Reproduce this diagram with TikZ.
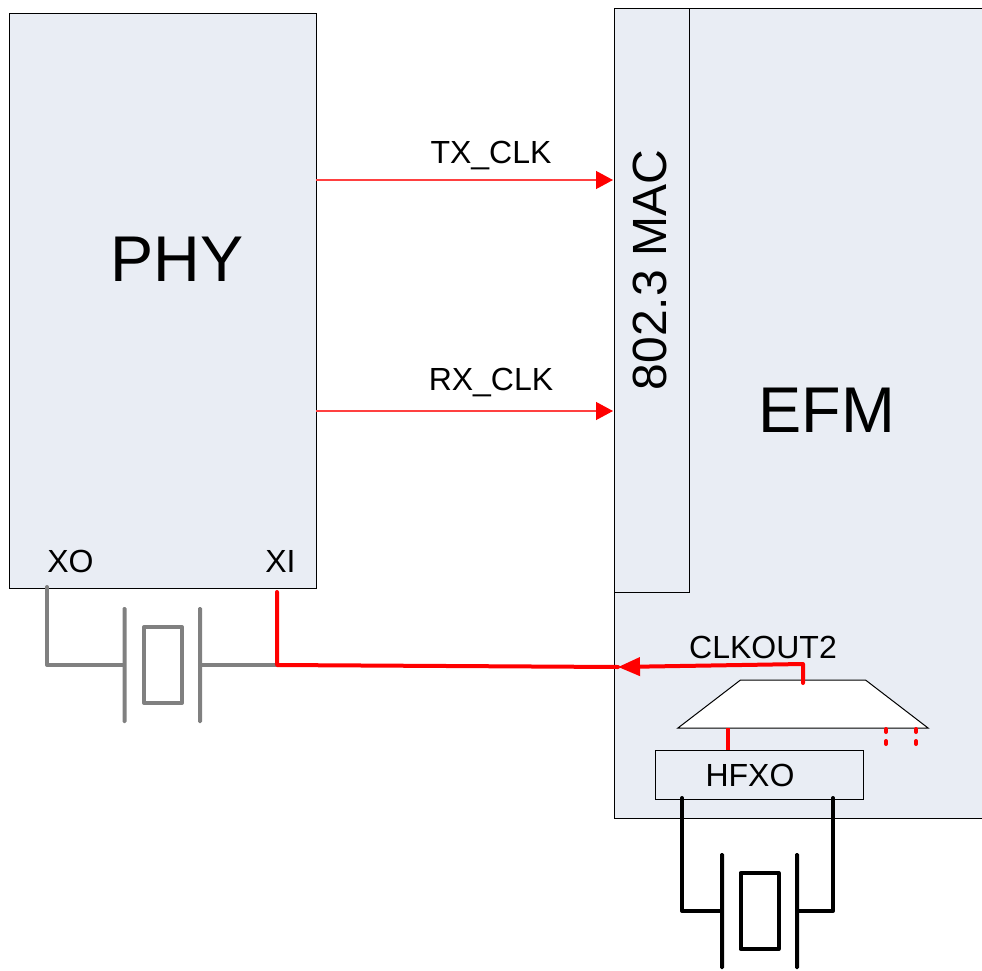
\documentclass[tikz,border=0pt]{standalone}
\usepackage{fontspec}
\setmainfont{Liberation Sans}
\usetikzlibrary{positioning,arrows.meta,shapes.geometric}
\definecolor{bFill}{RGB}{233,237,244}
\definecolor{bLine}{RGB}{0,0,0}
\definecolor{xGray}{RGB}{128,128,128}
\definecolor{sRed}{RGB}{255,0,0}
\newcommand{\px}{0.75pt}
\tikzset{
  block/.style={rectangle, draw=bLine, fill=bFill, line width=1*\px,
                inner sep=0pt, outer sep=0pt, anchor=north west},
  mux/.style={trapezium, trapezium left angle=37.5, trapezium right angle=37.5,
              draw=bLine, fill=white, line width=1*\px, inner sep=0pt, outer sep=0pt},
  big/.style={font=\fontsize{48.5}{52}\selectfont, inner sep=0pt},
  mid/.style={font=\fontsize{36}{40}\selectfont, inner sep=0pt, rotate=90},
  lbl/.style={font=\fontsize{24}{28}\selectfont, inner sep=0pt},
  xtal/.style={rectangle, draw=#1, line width=4*\px, line join=round, inner sep=0pt,
               outer sep=0pt, minimum width=38*\px, minimum height=76*\px},
  plate/.style={rectangle, fill=#1, rounded corners=1pt, inner sep=0pt, outer sep=0pt,
                minimum width=4*\px, minimum height=116*\px},
  lead/.style={draw=#1, line width=4*\px, line join=round, line cap=round},
  clk/.style={-{Triangle[length=17*\px,width=18*\px,color=sRed]}, draw=sRed!75, line width=1.3*\px},
  sel/.style={draw=sRed, line width=4*\px, line join=round, line cap=round},
  seld/.style={draw=sRed, line width=4*\px, line cap=round, dash pattern=on 3*\px off 9*\px},
}

\begin{document}
\begin{tikzpicture}[x=\px, y=-\px]
  \useasboundingbox (0,0) rectangle (982,971);

  % ===== Blocks =========================================================
  \node[block, minimum width=307*\px, minimum height=575*\px] (phy) at (9.5,13) {};
  \node[block, minimum width=380*\px, minimum height=810*\px] (efm) at (614,8) {};
  \node[block, minimum width=75.5*\px, minimum height=584*\px] (mac) at (614,8) {};
  \node[block, minimum width=208*\px, minimum height=49*\px] (hfxo) at (655,750) {};
  \node[mux] (clksel) at (803,704) {\phantom{\rule{93.75pt}{36pt}}};

  % ===== Labels =========================================================
  \node[big] (phyLbl) at (177,259) {PHY};
  \node[big] (efmLbl) at (827,410) {EFM};
  \node[mid] (macLbl) at (650,270) {802.3 MAC};
  \node[lbl] (txLbl) at (491,156) {TX\_CLK};
  \node[lbl] (rxLbl) at (491,383) {RX\_CLK};
  \node[lbl] (xoLbl) at (70.5,561) {XO};
  \node[lbl] (xiLbl) at (280.5,561) {XI};
  \node[lbl] (outLbl) at (763,647) {CLKOUT2};
  \node[lbl] (hfxoLbl) at (750,775) {HFXO};

  % ===== Clocks from PHY to MAC =========================================
  \coordinate (txFrom) at (316,180);
  \coordinate (txTo) at (613,180);
  \coordinate (rxFrom) at (316,411);
  \coordinate (rxTo) at (613,411);
  \draw[clk] (txFrom) -- (txTo);
  \draw[clk] (rxFrom) -- (rxTo);

  % ===== PHY crystal ====================================================
  \node[xtal=xGray] (xtalP) at (163,665) {};
  \node[plate=xGray, left=17.5*\px of xtalP] (plateA) {};
  \node[plate=xGray, right=16*\px of xtalP] (plateB) {};
  \coordinate (xoPin) at (47,587);
  \coordinate (xiPin) at (277,592);
  \coordinate (xiNode) at (277,665);
  \draw[lead=xGray] (xoPin) |- (plateA.west);
  \draw[lead=xGray] (plateB.east) -- (xiNode);

  % ===== EFM crystal ====================================================
  \node[xtal=black] (xtalE) at (759.5,911) {};
  \node[plate=black, left=16.5*\px of xtalE] (plateC) {};
  \node[plate=black, right=16.5*\px of xtalE] (plateD) {};
  \coordinate (hfxoL) at (682,798);
  \coordinate (hfxoR) at (833,798);
  \draw[lead=black] (hfxoL) |- (plateC.west);
  \draw[lead=black] (hfxoR) |- (plateD.east);

  % ===== CLKOUT2 route ==================================================
  \coordinate (muxOut) at (803,683);
  \coordinate (muxTurn) at (803,664);
  \coordinate (tipEnd) at (618,667);
  \draw[sel] (tipEnd) -- (xiNode) -- (xiPin);
  \draw[sel, -{Triangle[length=22*\px,width=18*\px]}] (muxOut) -- (muxTurn) -- (tipEnd);

  % mux inputs
  \coordinate (inA) at (728,728);
  \coordinate (inB) at (886,729);
  \coordinate (inC) at (916,729);
  \coordinate (inBEnd) at (886,744);
  \coordinate (inCEnd) at (916,744);
  \draw[sel, line cap=butt] (inA) -- (inA |- hfxo.north);
  \draw[seld] (inB) -- (inBEnd);
  \draw[seld] (inC) -- (inCEnd);

\end{tikzpicture}
\end{document}
